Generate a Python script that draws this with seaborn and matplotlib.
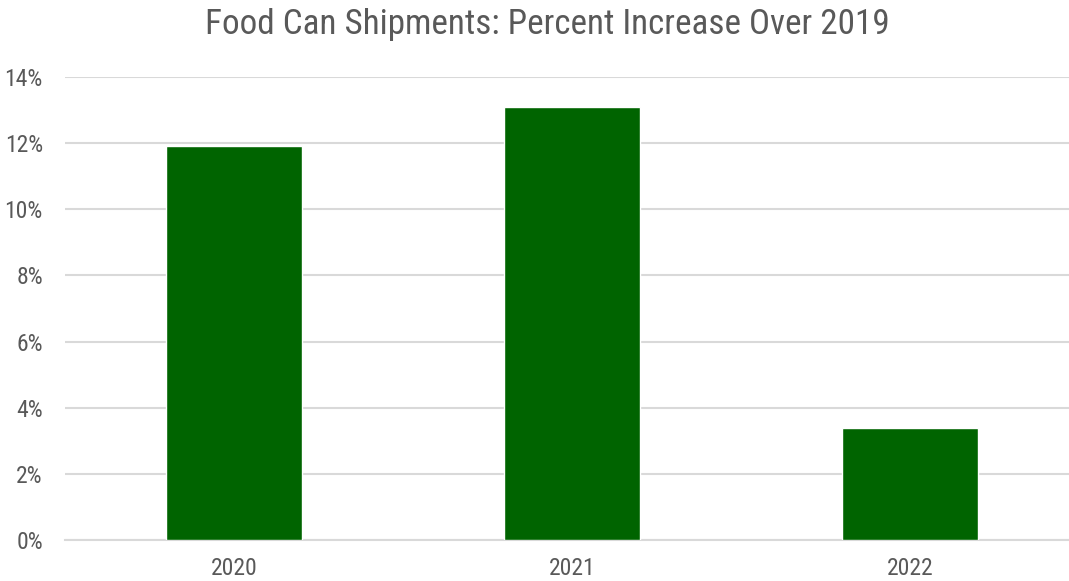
import matplotlib
matplotlib.use("Agg")
import matplotlib.pyplot as plt
from matplotlib import font_manager
import seaborn as sns
import pandas as pd
from matplotlib.ticker import FuncFormatter, MultipleLocator

years = ["2020", "2021", "2022"]
pct_increase = [11.9, 13.1, 3.4]

sns.set_style("white")

# Prefer a narrow sans face; fall back through the list to whatever is installed
installed = {f.name for f in font_manager.fontManager.ttflist}
preferred = ["Arial Narrow", "Liberation Sans Narrow", "Roboto Condensed",
             "PT Sans Narrow", "Archivo Narrow", "Liberation Sans"]
family = [f for f in preferred if f in installed][:1] + ["DejaVu Sans"]
plt.rcParams["font.family"] = family

df = pd.DataFrame({"year": years, "pct": pct_increase})

fig = plt.figure(figsize=(10.69, 5.81), dpi=100)
ax = fig.add_axes([65 / 1069, (581 - 540) / 581, 1014 / 1069, (540 - 77) / 581])

sns.barplot(data=df, x="year", y="pct", color="#006400", width=0.4,
            saturation=1, ax=ax, zorder=3)

ax.set_ylim(0, 14)
ax.set_xlim(-0.5, 2.5)
ax.yaxis.set_major_locator(MultipleLocator(2))
ax.yaxis.set_major_formatter(FuncFormatter(lambda v, _: f"{v:.0f}%"))
ax.grid(axis="y", color="#d9d9d9", linewidth=1.5, zorder=0)
ax.set_axisbelow(True)
for s in ["top", "right", "left"]:
    ax.spines[s].set_visible(False)
ax.spines["bottom"].set_color("#d9d9d9")
ax.spines["bottom"].set_linewidth(1.5)
ax.tick_params(axis="both", length=0, labelsize=17, colors="#595959")
ax.tick_params(axis="y", pad=16)
ax.tick_params(axis="x", pad=12)
ax.set_xlabel("")
ax.set_ylabel("")

fig.text(0.512, 0.958, "Food Can Shipments: Percent Increase Over 2019",
         ha="center", va="center", fontsize=25.3, color="#595959")

fig.savefig("out.png", dpi=100, facecolor="white")
